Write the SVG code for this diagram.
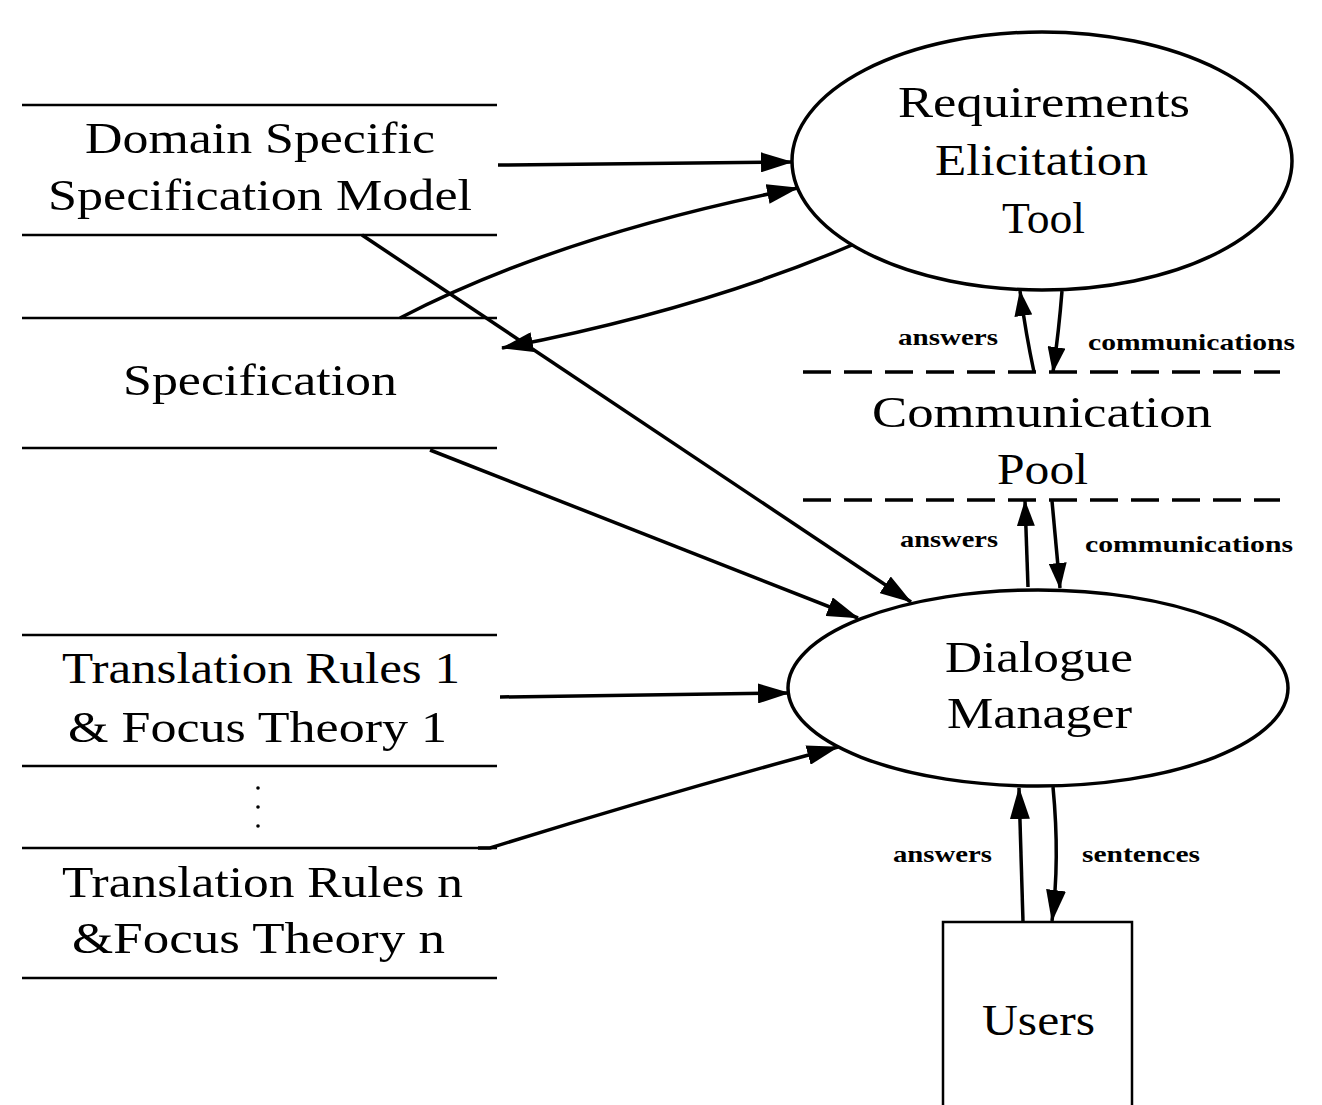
<svg xmlns="http://www.w3.org/2000/svg" width="1322" height="1105" viewBox="0 0 1322 1105">
<defs>
<marker id="ah" markerUnits="userSpaceOnUse" markerWidth="32" markerHeight="20" refX="31" refY="10" orient="auto">
<path d="M0,0 L32,10 L0,20 z" fill="#000"/>
</marker>
<marker id="ahs" markerUnits="userSpaceOnUse" markerWidth="26" markerHeight="18" refX="25" refY="9" orient="auto">
<path d="M0,0 L26,9 L0,18 z" fill="#000"/>
</marker>
</defs>
<style>
.big{font-family:"Liberation Serif","Times New Roman",serif;font-size:45px;fill:#000}
.small{font-family:"Liberation Serif","Times New Roman",serif;font-size:24px;font-weight:bold;fill:#000}
.store{stroke:#000;stroke-width:2.5;fill:none}
.shape{stroke:#000;stroke-width:3.5;fill:none}
.dash{stroke:#000;stroke-width:3.5;fill:none;stroke-dasharray:28 13}
.conn path,.conn line{stroke:#000;stroke-width:3.5;fill:none}
</style>
<rect width="1322" height="1105" fill="#fff"/>

<g id="domain-model">
<line class="store" x1="22" y1="105" x2="497" y2="105"/>
<line class="store" x1="22" y1="235" x2="497" y2="235"/>
<text class="big" x="85" y="153" textLength="350" lengthAdjust="spacingAndGlyphs">Domain Specific</text>
<text class="big" x="48" y="210" textLength="424" lengthAdjust="spacingAndGlyphs">Specification Model</text>
</g>

<g id="specification">
<line class="store" x1="22" y1="318" x2="497" y2="318"/>
<line class="store" x1="22" y1="448" x2="497" y2="448"/>
<text class="big" x="123" y="395" textLength="274" lengthAdjust="spacingAndGlyphs">Specification</text>
</g>

<g id="rules-1">
<line class="store" x1="22" y1="635" x2="497" y2="635"/>
<line class="store" x1="22" y1="766" x2="497" y2="766"/>
<text class="big" x="62" y="683" textLength="398" lengthAdjust="spacingAndGlyphs">Translation Rules 1</text>
<text class="big" x="68" y="742" textLength="379" lengthAdjust="spacingAndGlyphs">&amp; Focus Theory 1</text>
</g>

<g id="ellipsis">
<circle cx="258" cy="788" r="1.8" fill="#000"/>
<circle cx="258" cy="807" r="1.8" fill="#000"/>
<circle cx="258" cy="826" r="1.8" fill="#000"/>
</g>

<g id="rules-n">
<line class="store" x1="22" y1="848" x2="497" y2="848"/>
<line class="store" x1="22" y1="978" x2="497" y2="978"/>
<text class="big" x="62" y="897" textLength="401" lengthAdjust="spacingAndGlyphs">Translation Rules n</text>
<text class="big" x="72" y="953" textLength="373" lengthAdjust="spacingAndGlyphs">&amp;Focus Theory n</text>
</g>

<g id="req-tool">
<ellipse class="shape" cx="1042" cy="161" rx="250" ry="129"/>
<text class="big" x="898" y="117" textLength="292" lengthAdjust="spacingAndGlyphs">Requirements</text>
<text class="big" x="935" y="175" textLength="213" lengthAdjust="spacingAndGlyphs">Elicitation</text>
<text class="big" x="1002" y="233" textLength="83" lengthAdjust="spacingAndGlyphs">Tool</text>
</g>

<g id="comm-pool">
<line class="dash" x1="803" y1="372" x2="1280" y2="372"/>
<line class="dash" x1="803" y1="500" x2="1280" y2="500"/>
<text class="big" x="872" y="427" textLength="340" lengthAdjust="spacingAndGlyphs">Communication</text>
<text class="big" x="997" y="484" textLength="91" lengthAdjust="spacingAndGlyphs">Pool</text>
</g>

<g id="dialogue-manager">
<ellipse class="shape" cx="1038" cy="688" rx="250" ry="98"/>
<text class="big" x="945" y="672" textLength="188" lengthAdjust="spacingAndGlyphs">Dialogue</text>
<text class="big" x="947" y="728" textLength="185" lengthAdjust="spacingAndGlyphs">Manager</text>
</g>

<g id="users">
<rect class="store" x="943" y="922" width="189" height="200"/>
<text class="big" x="982" y="1035" textLength="113" lengthAdjust="spacingAndGlyphs">Users</text>
</g>

<g id="connectors" class="conn">
<line x1="498" y1="165" x2="792" y2="162" marker-end="url(#ah)"/>
<path d="M400,318 Q560,235 798,188" marker-end="url(#ah)"/>
<path d="M852,245 Q700,310 502,348" marker-end="url(#ah)"/>
<line x1="362" y1="235" x2="911" y2="602" marker-end="url(#ah)"/>
<line x1="430" y1="450" x2="858" y2="618" marker-end="url(#ah)"/>
<line x1="500" y1="697" x2="789" y2="693" marker-end="url(#ah)"/>
<path d="M478,848 L490,848 Q660,795 838,747" marker-end="url(#ah)"/>
<path d="M1034,372 Q1026,335 1020,291" marker-end="url(#ahs)"/>
<path d="M1062,291 Q1059,330 1053,372" marker-end="url(#ahs)"/>
<path d="M1028,587 L1025,501" marker-end="url(#ahs)"/>
<path d="M1052,501 L1060,588" marker-end="url(#ahs)"/>
<path d="M1023,922 L1019,788" marker-end="url(#ah)"/>
<path d="M1053,787 Q1060,860 1052,921" marker-end="url(#ah)"/>
<text class="small" x="898" y="345" textLength="100" lengthAdjust="spacingAndGlyphs">answers</text>
<text class="small" x="1088" y="350" textLength="207" lengthAdjust="spacingAndGlyphs">communications</text>
<text class="small" x="900" y="547" textLength="98" lengthAdjust="spacingAndGlyphs">answers</text>
<text class="small" x="1085" y="552" textLength="208" lengthAdjust="spacingAndGlyphs">communications</text>
<text class="small" x="893" y="862" textLength="99" lengthAdjust="spacingAndGlyphs">answers</text>
<text class="small" x="1082" y="862" textLength="118" lengthAdjust="spacingAndGlyphs">sentences</text>
</g>
</svg>
